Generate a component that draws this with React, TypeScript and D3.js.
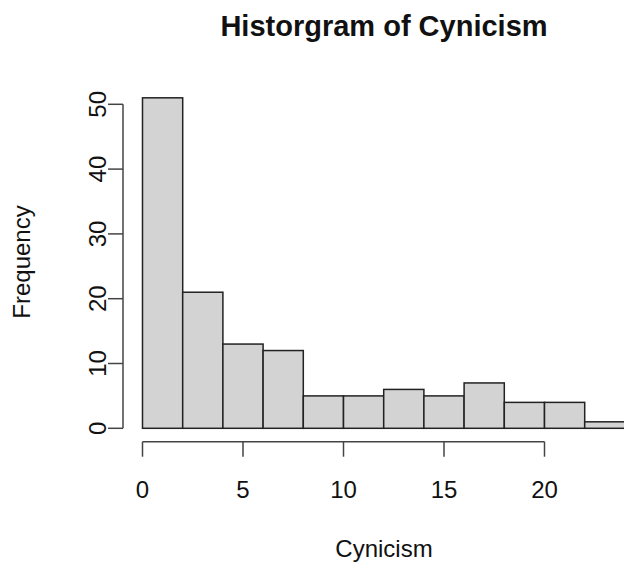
import React, { useEffect, useRef } from 'react';
import * as d3 from 'd3';

// histogram bins (width 2) and their counts
const binStarts = [0, 2, 4, 6, 8, 10, 12, 14, 16, 18, 20, 22];
const binWidth = 2;
const counts = [51, 21, 13, 12, 5, 5, 6, 5, 7, 4, 4, 1];
const xTicks = [0, 5, 10, 15, 20];
const yTicks = [0, 10, 20, 30, 40, 50];

const App = () => {
  const ref = useRef<SVGSVGElement | null>(null);

  useEffect(() => {
    const svg = d3.select(ref.current);
    svg.selectAll('*').remove();

    const x = d3.scaleLinear().domain([0, 20]).range([142.5, 544.5]);
    const y = d3.scaleLinear().domain([0, 50]).range([428.3, 104.3]);
    const font = '"Liberation Sans", Arial, sans-serif';

    svg.append('rect').attr('width', 624).attr('height', 564).attr('fill', '#fff');

    // bars
    svg.append('g')
      .selectAll('rect')
      .data(binStarts)
      .enter()
      .append('rect')
      .attr('x', (d) => x(d))
      .attr('y', (d, i) => y(counts[i]))
      .attr('width', (d) => x(d + binWidth) - x(d))
      .attr('height', (d, i) => y(0) - y(counts[i]))
      .attr('fill', '#d3d3d3')
      .attr('stroke', '#222')
      .attr('stroke-width', 1.5);

    // x axis (R style, detached)
    const xa = svg.append('g').attr('transform', 'translate(0,441.7)');
    xa.append('line')
      .attr('x1', x(0)).attr('x2', x(20))
      .attr('stroke', '#444').attr('stroke-width', 1.5);
    xa.selectAll('line.t')
      .data(xTicks)
      .enter()
      .append('line')
      .attr('class', 't')
      .attr('x1', (d) => x(d)).attr('x2', (d) => x(d))
      .attr('y1', 0).attr('y2', 15)
      .attr('stroke', '#444').attr('stroke-width', 1.5);
    xa.selectAll('text')
      .data(xTicks)
      .enter()
      .append('text')
      .attr('x', (d) => x(d))
      .attr('y', 56)
      .attr('text-anchor', 'middle')
      .attr('font-family', font)
      .attr('font-size', 24)
      .attr('fill', '#111')
      .text((d) => d);

    // y axis
    const ya = svg.append('g').attr('transform', 'translate(123,0)');
    ya.append('line')
      .attr('y1', y(0)).attr('y2', y(50))
      .attr('stroke', '#444').attr('stroke-width', 1.5);
    ya.selectAll('line.t')
      .data(yTicks)
      .enter()
      .append('line')
      .attr('class', 't')
      .attr('y1', (d) => y(d)).attr('y2', (d) => y(d))
      .attr('x1', 0).attr('x2', -15)
      .attr('stroke', '#444').attr('stroke-width', 1.5);
    ya.selectAll('text')
      .data(yTicks)
      .enter()
      .append('text')
      .attr('transform', (d) => `translate(-17,${y(d)}) rotate(-90)`)
      .attr('text-anchor', 'middle')
      .attr('font-family', font)
      .attr('font-size', 24)
      .attr('fill', '#111')
      .text((d) => d);

    // labels
    svg.append('text')
      .attr('x', 384).attr('y', 36)
      .attr('text-anchor', 'middle')
      .attr('font-family', font)
      .attr('font-size', 29)
      .attr('font-weight', 'bold')
      .attr('fill', '#111')
      .text('Historgram of Cynicism');

    svg.append('text')
      .attr('x', 384).attr('y', 557)
      .attr('text-anchor', 'middle')
      .attr('font-family', font)
      .attr('font-size', 24)
      .attr('fill', '#111')
      .text('Cynicism');

    svg.append('text')
      .attr('transform', 'translate(30,262) rotate(-90)')
      .attr('text-anchor', 'middle')
      .attr('font-family', font)
      .attr('font-size', 24)
      .attr('fill', '#111')
      .text('Frequency');
  }, []);

  return (
    <svg
      ref={ref}
      width={624}
      height={564}
      style={{ position: 'absolute', left: 0, top: 0, display: 'block' }}
    />
  );
};

export default App;
